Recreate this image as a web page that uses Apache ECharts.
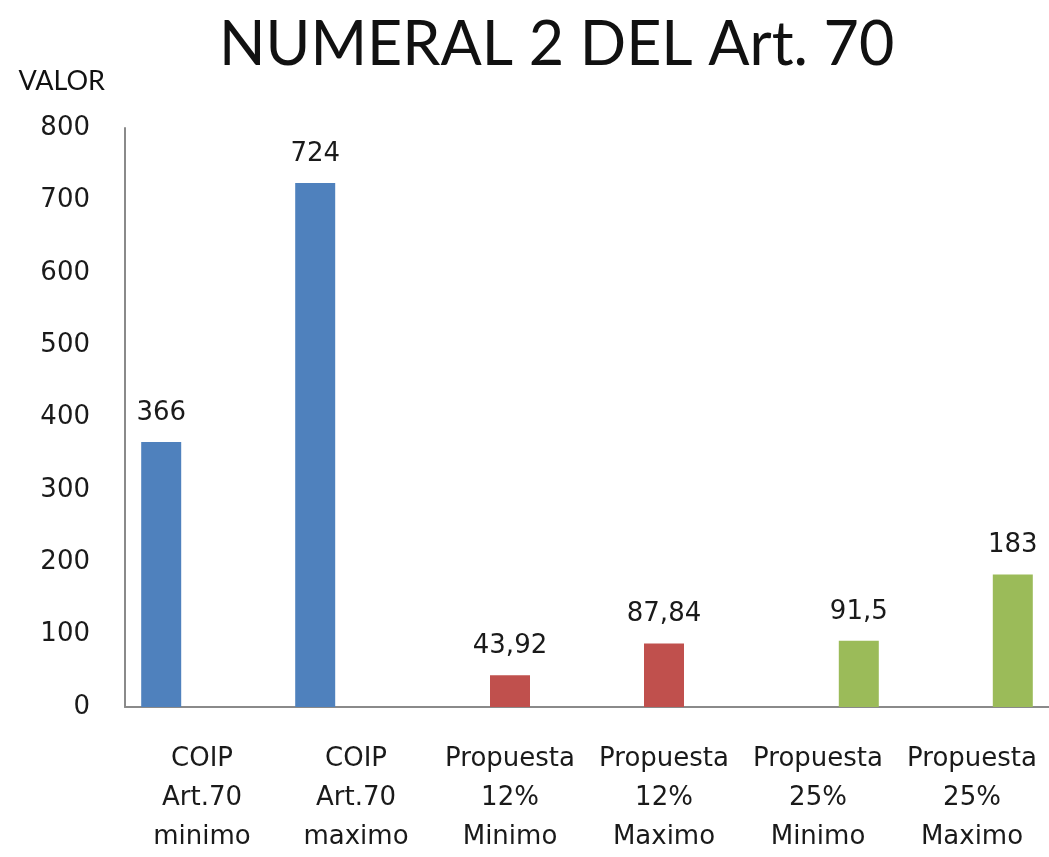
<!DOCTYPE html>
<html>
<head>
<meta charset="utf-8">
<title>NUMERAL 2 DEL Art. 70</title>
<script src="https://cdn.jsdelivr.net/npm/echarts@6/dist/echarts.min.js"></script>
<style>
  html, body { margin: 0; padding: 0; background: #fff; }
  #chart { width: 1049px; height: 857px; }
</style>
</head>
<body>
<div id="chart"></div>
<script>
const categories = [
  'COIP\nArt.70\nminimo',
  'COIP\nArt.70\nmaximo',
  'Propuesta\n12%\nMinimo',
  'Propuesta\n12%\nMaximo',
  'Propuesta\n25%\nMinimo',
  'Propuesta\n25%\nMaximo'
]
const coipValues = [366, 724, '-', '-', '-', '-']
const prop12Values = ['-', '-', 43.92, 87.84, '-', '-']
const prop25Values = ['-', '-', '-', '-', 91.5, 183]
const yTicks = { min: 0, max: 800, interval: 100 }

const labelFont = 'DejaVu Sans, Verdana, sans-serif'

function barSeries(name, data, color) {
  return {
    name: name,
    type: 'bar',
    data: data,
    barWidth: 40,
    barGap: '2%',
    itemStyle: { color: color },
    label: {
      show: true,
      position: 'top',
      distance: 16,
      fontFamily: labelFont,
      fontSize: 26,
      color: '#1a1a1a',
      formatter: p => String(p.value).replace('.', ',')
    }
  }
}

const chart = echarts.init(document.getElementById('chart'), null, { renderer: 'canvas' })
chart.setOption({
  animation: false,
  title: {
    text: 'NUMERAL 2 DEL Art. 70',
    left: 214,
    top: 10,
    textStyle: {
      fontFamily: 'Lato, sans-serif',
      fontWeight: 'normal',
      fontSize: 61,
      color: '#111'
    }
  },
  grid: {
    left: 125,
    right: 0,
    top: 128,
    bottom: 145
  },
  xAxis: {
    type: 'category',
    data: categories,
    axisLine: { lineStyle: { color: '#8a8a8a', width: 2 } },
    axisTick: { show: false },
    axisLabel: {
      interval: 0,
      margin: 33,
      fontFamily: labelFont,
      fontSize: 26,
      lineHeight: 39,
      color: '#1a1a1a'
    }
  },
  yAxis: {
    type: 'value',
    min: yTicks.min,
    max: yTicks.max,
    interval: yTicks.interval,
    name: 'VALOR',
    nameLocation: 'end',
    nameGap: 33,
    nameTextStyle: {
      fontFamily: 'Lato, sans-serif',
      fontSize: 27,
      color: '#111',
      align: 'right',
      padding: [0, 20, 0, 0]
    },
    axisLine: { show: true, lineStyle: { color: '#8a8a8a', width: 2 } },
    axisTick: { show: false },
    splitLine: { show: false },
    axisLabel: {
      margin: 35,
      fontFamily: labelFont,
      fontSize: 26,
      color: '#1a1a1a'
    }
  },
  series: [
    barSeries('COIP Art.70', coipValues, '#4f81bd'),
    barSeries('Propuesta 12%', prop12Values, '#c0504d'),
    barSeries('Propuesta 25%', prop25Values, '#9bbb59')
  ]
})
</script>
</body>
</html>
